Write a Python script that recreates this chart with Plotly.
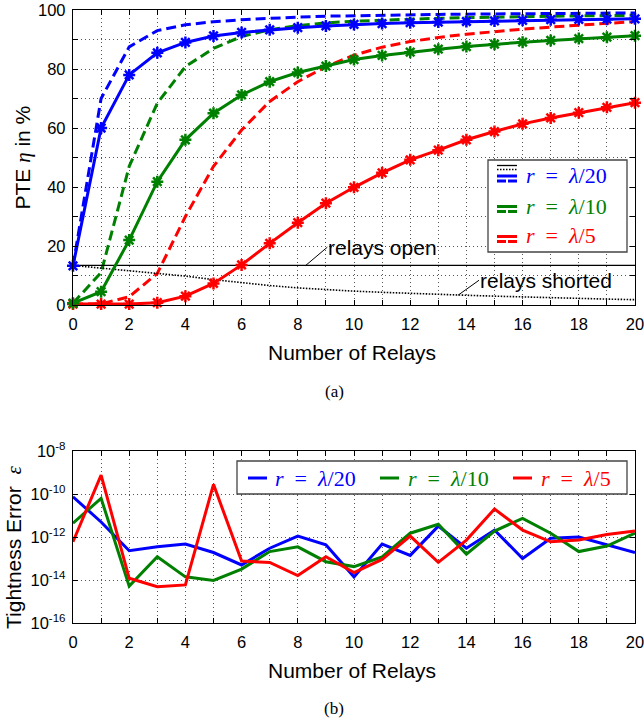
import plotly.graph_objects as go

# ---------------- data ----------------
relays = list(range(21))

# (a) power transfer efficiency in %
pte_l20_solid = [13.3, 60, 78, 85.5, 89, 91.2, 92.4, 93.3, 94, 94.6, 95.1, 95.4, 95.7, 95.9, 96.1, 96.3, 96.5, 96.7, 96.8, 96.9, 97.0]
pte_l20_dash = [13.3, 70, 87.5, 93, 95, 96, 96.7, 97.2, 97.6, 97.9, 98.1, 98.3, 98.4, 98.5, 98.6, 98.7, 98.8, 98.8, 98.9, 98.9, 99.0]
pte_l10_solid = [0.6, 4.5, 22, 41.8, 56, 65, 71.2, 75.7, 78.8, 81, 83.2, 84.6, 85.7, 86.7, 87.6, 88.4, 89.1, 89.7, 90.3, 90.8, 91.3]
pte_l10_dash = [0.6, 11, 47, 68.4, 80.8, 87, 91, 93.3, 94.7, 95.6, 96.2, 96.6, 96.9, 97.2, 97.4, 97.6, 97.8, 97.9, 98.0, 98.1, 98.2]
pte_l5_solid = [0.3, 0.3, 0.3, 0.8, 3, 7.3, 13.6, 20.9, 27.9, 34.5, 39.9, 44.8, 49.2, 52.5, 56, 58.8, 61.4, 63.4, 65.2, 67, 68.6]
pte_l5_dash = [0.3, 0.4, 2.8, 10.7, 30, 47, 59.3, 69, 75.7, 80.8, 84.7, 87.4, 89.3, 90.7, 91.8, 92.7, 93.5, 94.2, 94.9, 95.5, 96.0]
pte_open = [13.4, 13.4, 13.4, 13.4, 13.4, 13.4, 13.4, 13.4, 13.4, 13.4, 13.4, 13.4, 13.4, 13.4, 13.4, 13.4, 13.4, 13.4, 13.4, 13.4, 13.4]
pte_shorted = [13.4, 12.5, 11.6, 10.7, 9.8, 8.6, 7.5, 6.6, 5.8, 5.2, 4.7, 4.3, 3.9, 3.6, 3.3, 3.0, 2.7, 2.4, 2.2, 2.0, 1.8]

# (b) tightness error
err_l20 = [7.4e-11, 5.0e-12, 2.3e-13, 3.5e-13, 4.7e-13, 1.9e-13, 5.0e-14, 3.0e-13, 1.1e-12, 4.3e-13, 1.4e-14,
           4.7e-13, 1.4e-13, 3.2e-12, 3.0e-13, 2.1e-12, 1.0e-13, 8.7e-13, 1.0e-12, 4.3e-13, 1.9e-13]
err_l10 = [4.4e-12, 6.3e-11, 5.2e-15, 1.2e-13, 1.4e-14, 9.5e-15, 3.2e-14, 2.1e-13, 3.5e-13, 7.1e-14, 4.2e-14,
           1.2e-13, 1.5e-12, 3.9e-12, 1.6e-13, 1.9e-12, 7.4e-12, 1.5e-12, 2.1e-13, 3.8e-13, 1.5e-12]
err_l5 = [6.0e-13, 7.6e-10, 1.2e-14, 4.9e-15, 5.9e-15, 2.8e-10, 7.6e-14, 6.6e-14, 1.6e-14, 1.2e-13, 2.2e-14,
          9.1e-14, 1.1e-12, 6.6e-14, 7.2e-13, 2.0e-11, 2.1e-12, 6.0e-13, 7.2e-13, 1.3e-12, 1.9e-12]

x_ticks = [0, 2, 4, 6, 8, 10, 12, 14, 16, 18, 20]
pte_ticks = [0, 20, 40, 60, 80, 100]
err_tickvals = [1e-16, 1e-14, 1e-12, 1e-10, 1e-8]
err_ticktext = ["10<sup>-16</sup>", "10<sup>-14</sup>", "10<sup>-12</sup>", "10<sup>-10</sup>", "10<sup>-8</sup>"]
labels = ["<i>r</i>\u2002=\u2002<i>λ</i>/20", "<i>r</i>\u2002=\u2002<i>λ</i>/10", "<i>r</i>\u2002=\u2002<i>λ</i>/5"]

# ---------------- style ----------------
W, H = 644, 723
BLUE, GREEN, RED = "#0000ff", "#008000", "#ff0000"
SANS = "Liberation Sans, Arial, Helvetica, sans-serif"
SERIF = "Liberation Serif, Times New Roman, serif"
GRIDDASH = "1px,3px"
LW = 3
DASH = "10px,5px"


def px(v):
    return v / W


def py(v):
    return 1 - v / H


fig = go.Figure()

# (a) traces
for y, c in [(pte_l5_dash, RED), (pte_l10_dash, GREEN), (pte_l20_dash, BLUE)]:
    fig.add_trace(go.Scatter(x=relays, y=y, mode="lines", line=dict(color=c, width=LW, dash=DASH),
                             xaxis="x", yaxis="y", showlegend=False, cliponaxis=False))
fig.add_trace(go.Scatter(x=relays, y=pte_open, mode="lines", line=dict(color="black", width=1.3),
                         xaxis="x", yaxis="y", showlegend=False))
fig.add_trace(go.Scatter(x=relays, y=pte_shorted, mode="lines", line=dict(color="black", width=1.6, dash="1.5px,1.5px"),
                         xaxis="x", yaxis="y", showlegend=False))
for y, c in [(pte_l5_solid, RED), (pte_l10_solid, GREEN), (pte_l20_solid, BLUE)]:
    m = dict(symbol="asterisk-open", size=10, color=c, line=dict(width=2.5, color=c))
    fig.add_trace(go.Scatter(x=relays, y=y, mode="lines+markers", line=dict(color=c, width=LW), marker=m,
                             xaxis="x", yaxis="y", showlegend=False, cliponaxis=False))

# (b) traces
for y, c in [(err_l20, BLUE), (err_l10, GREEN), (err_l5, RED)]:
    fig.add_trace(go.Scatter(x=relays, y=y, mode="lines", line=dict(color=c, width=LW),
                             xaxis="x2", yaxis="y2", showlegend=False))

XD = [px(73), px(635)]
axis_common = dict(showline=True, linecolor="black", linewidth=1.3, mirror="ticks", ticks="inside",
                   ticklen=5, tickwidth=1, tickcolor="black", zeroline=False, automargin=False,
                   showgrid=True, gridcolor="#555", gridwidth=1, griddash=GRIDDASH,
                   ticklabeloverflow="allow",
                   tickfont=dict(family=SANS, size=16.5, color="black"))
minor_x = dict(dtick=1, tick0=0, ticks="inside", ticklen=5, showgrid=True,
               gridcolor="#555", griddash=GRIDDASH, gridwidth=1)

fig.update_layout(
    width=W, height=H, margin=dict(l=0, r=0, t=0, b=0, autoexpand=False),
    paper_bgcolor="white", plot_bgcolor="white", showlegend=False,
    xaxis=dict(domain=XD, anchor="y", range=[0, 20], tickvals=x_ticks, minor=minor_x,
               ticklabelstandoff=4, **axis_common),
    yaxis=dict(domain=[py(305), py(10)], anchor="x", range=[0, 100], tickvals=pte_ticks,
               minor=dict(dtick=10, tick0=0, ticks="inside", ticklen=5, showgrid=True,
                          gridcolor="#555", griddash=GRIDDASH, gridwidth=1),
               ticklabelstandoff=3, **axis_common),
    xaxis2=dict(domain=XD, anchor="y2", range=[0, 20], tickvals=x_ticks, minor=minor_x,
                ticklabelstandoff=4, **axis_common),
    yaxis2=dict(domain=[py(623), py(451)], anchor="x2", type="log", range=[-16, -8],
                tickvals=err_tickvals, ticktext=err_ticktext, ticklabelstandoff=3, **axis_common),
)

ann = []


def label(text, xc, yc, size, family=SANS, color="black", angle=0, xanchor="center"):
    ann.append(dict(text=text, x=px(xc), y=py(yc), xref="paper", yref="paper", showarrow=False,
                    xanchor=xanchor, yanchor="middle", textangle=angle,
                    font=dict(family=family, size=size, color=color)))


# axis titles and captions
label("Number of Relays", 352, 352, 21)
label("Number of Relays", 352, 670, 21)
label("(a)", 334, 391, 17, family=SERIF)
label("(b)", 334, 708, 17, family=SERIF)
label("PTE <span style='font-family:Liberation Serif'><i>η</i></span> in %", 22, 157.5, 21, angle=-90)
label("Tightness Error  <span style='font-family:Liberation Serif'><i>ε</i></span>", 14, 548, 21, angle=-90)

# curve annotations
ann.append(dict(text="relays open", x=8.28, y=13.4, ax=9.05, ay=19.6, xref="x", yref="y", axref="x", ayref="y",
                xanchor="left", yanchor="middle", showarrow=True, arrowhead=0, arrowwidth=1, arrowcolor="black",
                standoff=0, startstandoff=0, borderpad=0,
                font=dict(family=SANS, size=21, color="black")))
ann.append(dict(text="relays shorted", x=13.7, y=3.3, ax=14.45, ay=8.4, xref="x", yref="y", axref="x", ayref="y",
                xanchor="left", yanchor="middle", showarrow=True, arrowhead=0, arrowwidth=1, arrowcolor="black",
                standoff=0, startstandoff=0, borderpad=0,
                font=dict(family=SANS, size=21, color="black")))

shapes = []


def hline(x0, x1, yy, color, width, dash="solid"):
    shapes.append(dict(type="line", xref="paper", yref="paper", x0=px(x0), x1=px(x1), y0=py(yy), y1=py(yy),
                       line=dict(color=color, width=width, dash=dash), layer="above"))


# legend (a)
shapes.append(dict(type="rect", xref="paper", yref="paper", x0=px(488), x1=px(627), y0=py(160), y1=py(252),
                   line=dict(color="#444", width=1.3), fillcolor="white", layer="above"))
rows_a = [(175.5, BLUE), (206, GREEN), (236, RED)]
for (yc, c), lab in zip(rows_a, labels):
    if c == BLUE:
        hline(497, 517, yc - 10, "black", 1.3)
        hline(497, 517, yc - 6, "black", 1.5, "1.5px,1.5px")
    hline(497, 517, yc + 0.5, c, LW)
    hline(497, 517, yc + 5.5, c, LW, "9px,2px")
    label(lab, 524, yc, 22, family=SERIF, color=c, xanchor="left")

# legend (b)
shapes.append(dict(type="rect", xref="paper", yref="paper", x0=px(237), x1=px(627), y0=py(461), y1=py(494),
                   line=dict(color="#444", width=1.3), fillcolor="white", layer="above"))
rows_b = [(248, 273, BLUE), (380, 406, GREEN), (513, 539, RED)]
for (lx, tx, c), lab in zip(rows_b, labels):
    hline(lx, lx + 19, 478, c, LW)
    label(lab, tx, 478, 22, family=SERIF, color=c, xanchor="left")

fig.update_layout(annotations=ann, shapes=shapes)
fig.write_html("out.html")
